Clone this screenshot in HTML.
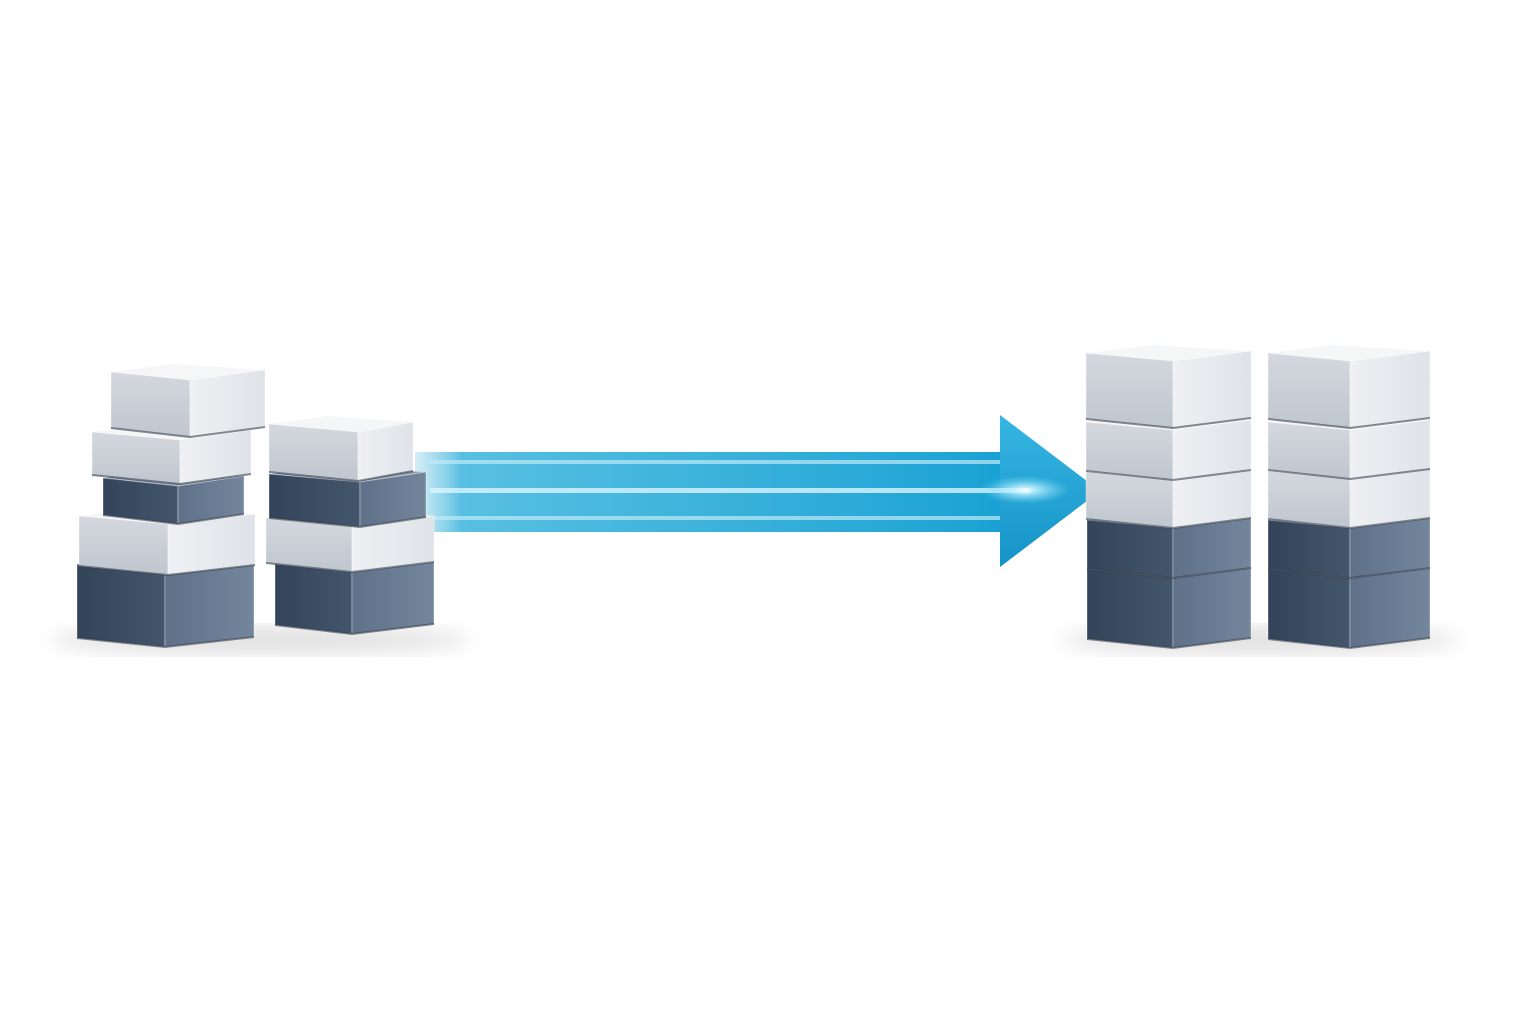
<!DOCTYPE html>
<html><head><meta charset="utf-8"><style>
html,body{margin:0;padding:0;background:#fff;width:1536px;height:1024px;overflow:hidden}
</style></head><body>
<svg width="1536" height="1024" viewBox="0 0 1536 1024" xmlns="http://www.w3.org/2000/svg">
<defs>
<linearGradient id="shaft" x1="415" y1="0" x2="1000" y2="0" gradientUnits="userSpaceOnUse">
<stop offset="0" stop-color="#8fd3ea" stop-opacity="0.4"/>
<stop offset="0.08" stop-color="#45b8de" stop-opacity="0.9"/>
<stop offset="1" stop-color="#1aa2d4"/>
</linearGradient>
<linearGradient id="head" x1="0" y1="415" x2="0" y2="567" gradientUnits="userSpaceOnUse">
<stop offset="0" stop-color="#36b6e2"/><stop offset="1" stop-color="#1593c8"/>
</linearGradient>
<radialGradient id="glow"><stop offset="0" stop-color="#fff"/><stop offset="0.3" stop-color="#bdf0ff" stop-opacity="0.8"/><stop offset="1" stop-color="#7fd8f5" stop-opacity="0"/></radialGradient>
<filter id="blur"><feGaussianBlur stdDeviation="10"/></filter>
<linearGradient id="lL" x1="0" y1="0" x2="0" y2="1"><stop offset="0" stop-color="#d4d8de"/><stop offset="1" stop-color="#c0c6ce"/></linearGradient>
<linearGradient id="lR" x1="0" y1="0" x2="1" y2="0"><stop offset="0" stop-color="#eef0f3"/><stop offset="1" stop-color="#dfe3e8"/></linearGradient>
<linearGradient id="dL" x1="0" y1="0" x2="1" y2="0"><stop offset="0" stop-color="#33445a"/><stop offset="1" stop-color="#44566c"/></linearGradient>
<linearGradient id="dR" x1="0" y1="0" x2="1" y2="0"><stop offset="0" stop-color="#5f7189"/><stop offset="1" stop-color="#74869c"/></linearGradient>
</defs>
<g filter="url(#blur)" fill="#000" opacity="0.12">
<ellipse cx="260" cy="640" rx="210" ry="14"/>
<ellipse cx="1260" cy="640" rx="200" ry="14"/>
</g>
<rect x="415" y="452" width="590" height="80" fill="url(#shaft)"/>
<polygon points="1000,415 1100,491 1000,567" fill="url(#head)"/>
<rect x="430" y="460" width="570" height="4" fill="#bfeaf7" opacity="0.7"/>
<rect x="430" y="488" width="600" height="5" fill="#d9f5ff" opacity="0.8"/>
<rect x="430" y="516" width="570" height="4" fill="#bfeaf7" opacity="0.7"/>
<ellipse cx="1025" cy="490" rx="45" ry="14" fill="url(#glow)"/>
<g id="blocks" stroke="#fff" stroke-opacity="0.35" stroke-width="1" stroke-linejoin="round"></g>
</svg>
<script>
var B=[
[111,265,364,437,190,0],[92,251,424,484,180,0],[103,244,470,524,178,1],[79,255,508,575,168,0],[77,254,556,647,165,1],
[269,413,416,481,358,0],[269,426,466,527,360,1],[266,434,510,572,352,0],[275,434,556,634,352,1],
[1086,1251,345,428,1173,0],[1086,1251,414,480,1173,0],[1086,1251,464,528,1173,0],[1087,1251,512,578,1173,1],[1087,1251,558,648,1173,1],
[1268,1430,345,428,1350,0],[1268,1430,414,479,1350,0],[1268,1430,463,528,1350,0],[1268,1430,512,578,1350,1],[1268,1430,558,648,1350,1]
];
B.sort(function(a,b){return b[2]-a[2];});
var g=document.getElementById('blocks'),ns='http://www.w3.org/2000/svg';
function poly(pts,fill){var p=document.createElementNS(ns,'polygon');p.setAttribute('points',pts.map(function(a){return a.join(',')}).join(' '));p.setAttribute('fill',fill);g.appendChild(p);return p;}
B.forEach(function(b){var L=b[0],R=b[1],T=b[2],Bo=b[3],P=b[4],d=b[5];
var w=R-L;
poly([[L,T+8],[L+w*0.4,T],[R,T+6],[P,T+16]],d?'#8797ab':'#f5f6f8');
poly([[L,T+8],[P,T+16],[P,Bo],[L,Bo-9]],d?'url(#dL)':'url(#lL)');
poly([[P,T+16],[R,T+6],[R,Bo-10],[P,Bo]],d?'url(#dR)':'url(#lR)');
var l=document.createElementNS(ns,'polyline');
l.setAttribute('points',L+','+(Bo-9)+' '+P+','+Bo+' '+R+','+(Bo-10));
l.setAttribute('fill','none');l.setAttribute('stroke','#26303e');l.setAttribute('stroke-opacity','0.55');l.setAttribute('stroke-width','2');
g.appendChild(l);
});
</script>
</body></html>
